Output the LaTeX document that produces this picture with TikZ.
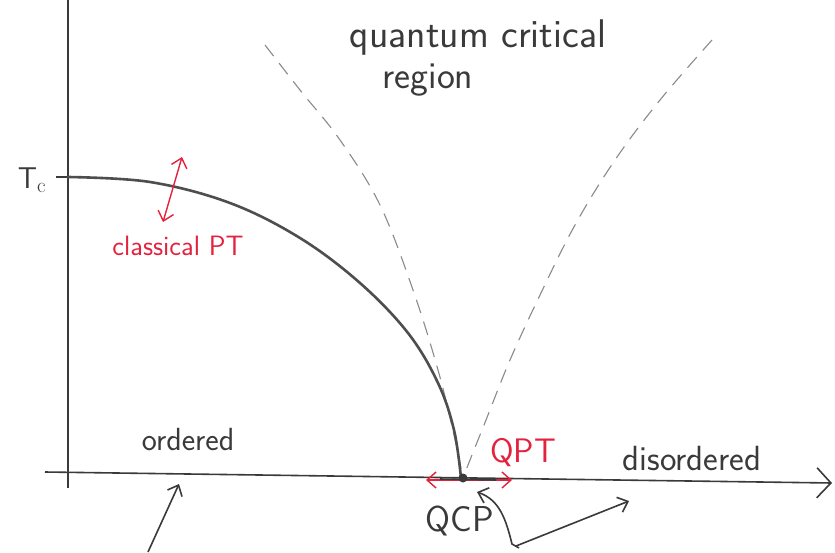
\documentclass[tikz,border=0pt]{standalone}
\usepackage{fontspec}
\usetikzlibrary{arrows.meta}
\definecolor{pencil}{HTML}{3A3A3A}
\definecolor{redpen}{HTML}{E4223E}
\definecolor{dashgray}{HTML}{8A8A8A}
\begin{document}
\begin{tikzpicture}[x=1pt,y=-1pt,
  lbl/.style={font=\sffamily\fontsize{30}{34}\selectfont, text=pencil, inner sep=0pt},
  redlbl/.style={font=\sffamily\fontsize{34}{38}\selectfont, text=redpen, inner sep=0pt},
  axisline/.style={draw=pencil, line width=1.6pt},
  curveline/.style={draw=pencil!90, line width=2.6pt, line cap=round},
  dashline/.style={draw=dashgray, line width=1.1pt, dash pattern=on 14pt off 9pt},
  redarr/.style={draw=redpen, line width=1.4pt, {Straight Barb[length=9pt,width=16pt]}-{Straight Barb[length=9pt,width=16pt]}},
  pointer/.style={draw=pencil, line width=1.6pt, -{Straight Barb[length=9pt,width=16pt]}}]
\useasboundingbox (0,0) rectangle (835,552);
\fill[white] (0,0) rectangle (835,552);

% axes
\coordinate (ytop) at (68,0);
\coordinate (ybot) at (68,488);
\coordinate (xs) at (45,472);
\coordinate (xe) at (832,483);
\draw[axisline] (ytop) -- (ybot);
\draw[axisline, -{Straight Barb[length=14pt,width=30pt,line width=1.6pt]}] (xs) -- (xe);

% Tc tick and label
\coordinate (tcl) at (56,177);
\coordinate (tc) at (68,177);
\draw[axisline] (tcl) -- (76,177);
\node[lbl] (tclabel) at (32,180) {T$_{\mathrm{c}}$};

% QCP
\coordinate (qcp) at (463,478);

% dashed crossover lines
\draw[dashline] plot[smooth, tension=0.6] coordinates {(265,45) (300,90) (340,140) (380,205) (413,290) (438,370) (454,435) (463,478)};
\draw[dashline] plot[smooth, tension=0.6] coordinates {(712,40) (660,100) (615,160) (575,225) (540,295) (510,360) (486,420) (470,460) (463,478)};

% phase boundary
\draw[curveline] plot[smooth, tension=0.6] coordinates {(68,177) (150,182) (230,203) (300,238) (360,283) (408,333) (438,383) (454,430) (461,478)};

% classical PT arrow
\coordinate (ca1) at (182,157);
\coordinate (ca2) at (163,222);
\draw[redarr] (ca2) -- (ca1);
\node[redlbl, font=\sffamily\fontsize{28}{32}\selectfont] (cpt) at (178,246) {classical PT};

% QPT arrow
\coordinate (q1) at (426,480);
\coordinate (q2) at (512,480);
\draw[redarr] (q1) -- (q2);
\draw[pencil, line width=1.6pt] (440,479) -- (496,480);
\fill[pencil] (qcp) circle (4.5pt);
\node[redlbl] (qpt) at (523,453) {QPT};

% region labels
\node[lbl, font=\sffamily\fontsize{32}{36}\selectfont] (ordered) at (188,440) {ordered};
\node[lbl, font=\sffamily\fontsize{35}{40}\selectfont] (disordered) at (692,458) {disordered};
\node[lbl, font=\sffamily\fontsize{40}{44}\selectfont] (qcr1) at (478,38) {quantum critical};
\node[lbl, font=\sffamily\fontsize{38}{42}\selectfont] (qcr2) at (428,80) {region};
\node[lbl, font=\sffamily\fontsize{36}{40}\selectfont] (qcplabel) at (460,521) {QCP};

% pointer arrows
\coordinate (p0) at (519,548);
\coordinate (ptip) at (477,492);
\draw[pointer] (p0) -- (512,544) .. controls (506,520) and (500,500) .. (ptip);
\coordinate (p1) at (516,546);
\coordinate (p1tip) at (629,501);
\draw[pointer] (p1) -- (p1tip);
\coordinate (b0) at (148,552);
\coordinate (btip) at (179,484);
\draw[pointer] (b0) -- (btip);
\end{tikzpicture}
\end{document}
